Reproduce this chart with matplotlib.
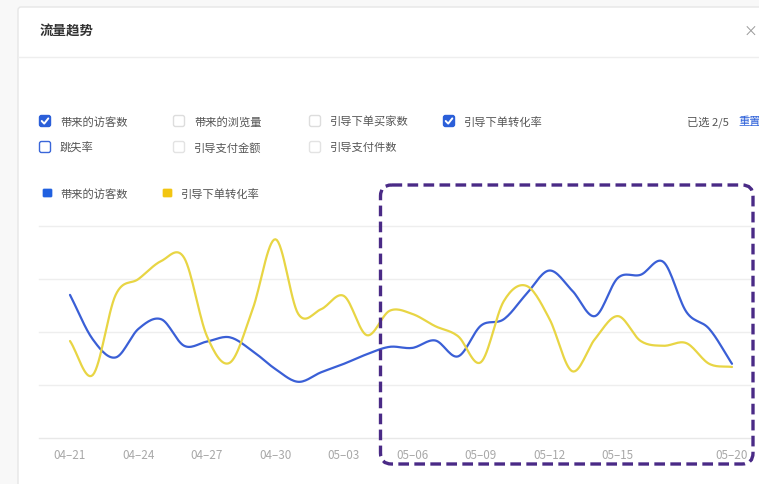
import numpy as np
import pandas as pd
import matplotlib
matplotlib.use('Agg')
import matplotlib.pyplot as plt
from matplotlib.patches import FancyBboxPatch

plt.rcParams['font.family'] = ['Noto Sans CJK SC', 'DejaVu Sans']

# data
dates = pd.date_range('2024-04-21', '2024-05-20').strftime('%m–%d').tolist()
visitors = [135, 93, 76, 103, 112, 87, 91, 95, 82, 65,
            53, 62, 70, 79, 86, 85, 92, 77, 106, 112,
            136, 158, 139, 115, 151, 154, 166, 119, 103, 70]
conv_rate = [1.83, 1.19, 2.70, 3.00, 3.34, 3.40, 1.92, 1.42, 2.43, 3.75,
             2.34, 2.43, 2.68, 1.94, 2.40, 2.34, 2.11, 1.92, 1.43, 2.58,
             2.87, 2.25, 1.26, 1.87, 2.30, 1.83, 1.74, 1.79, 1.40, 1.34]
tick_idx = [0, 3, 6, 9, 12, 15, 18, 21, 24, 29]

row1 = ['带来的访客数', '带来的浏览量', '引导下单买家数', '引导下单转化率']
row2 = ['跳失率', '引导支付金额', '引导支付件数']
checked = ['带来的访客数', '引导下单转化率']
legend_names = ['带来的访客数', '引导下单转化率']

BLUE = '#3a5fd6'
YELLOW = '#e8d544'
W, H = 759, 485


def smooth(y, k=16):
    # cubic hermite curve through the points (like the smooth line of the web chart)
    y = np.asarray(y, float)
    m = np.gradient(y)
    t = np.linspace(0, 1, k, endpoint=False)
    h00 = 2*t**3 - 3*t**2 + 1
    h10 = t**3 - 2*t**2 + t
    h01 = -2*t**3 + 3*t**2
    h11 = t**3 - t**2
    xs, ys = [], []
    for i in range(len(y) - 1):
        xs.append(i + t)
        ys.append(h00*y[i] + h10*m[i] + h01*y[i+1] + h11*m[i+1])
    xs.append([len(y) - 1])
    ys.append([y[-1]])
    return np.concatenate(xs), np.concatenate(ys)


fig = plt.figure(figsize=(W/100, H/100), dpi=100, facecolor='#f8f8f8')

# background ui layer (pixel coords)
bg = fig.add_axes([0, 0, 1, 1], zorder=0)
bg.set_xlim(0, W)
bg.set_ylim(H, 0)
bg.axis('off')
bg.add_patch(FancyBboxPatch((18, 8), 760, 500, boxstyle='round,pad=0,rounding_size=3',
                            facecolor='white', edgecolor='#e6e6e6', lw=1))
bg.plot([18, W], [58, 58], color='#eeeeee', lw=1)
bg.text(40, 32, '流量趋势', fontsize=9.7, color='#333333', va='center', fontweight='bold')
bg.text(744, 32, '×', fontsize=10, color='#999999', va='center')


def checkbox(x, y, label, on, edge='#dddddd'):
    if on:
        bg.add_patch(FancyBboxPatch((x - 5.5, y - 5.5), 11, 11, boxstyle='round,pad=0,rounding_size=2',
                                    facecolor='#2b5fd9', edgecolor='#2b5fd9', lw=1))
        bg.plot([x - 3.3, x - 0.8, x + 3.3], [y, y + 2.6, y - 2.6], color='white', lw=1.4,
                solid_capstyle='round')
    else:
        bg.add_patch(FancyBboxPatch((x - 5.5, y - 5.5), 11, 11, boxstyle='round,pad=0,rounding_size=2',
                                    facecolor='white', edgecolor=edge, lw=1))
    bg.text(x + 15, y, label, fontsize=8.1, color='#555555', va='center')


col_x = [45, 179, 315, 449]
for cx, name in zip(col_x, row1):
    checkbox(cx, 122, name, name in checked)
for cx, name in zip(col_x, row2):
    checkbox(cx, 148, name, name in checked, edge='#3a66d9' if name == '跳失率' else '#e3e3e3')
bg.text(687, 122, '已选 2/5', fontsize=8.1, color='#555555', va='center')
bg.text(738, 122, '重置', fontsize=8.1, color='#2b5fd9', va='center')

# legend
for lx, name, c in zip([47.5, 167.5], legend_names, ['#2060e0', '#f2c511']):
    bg.add_patch(FancyBboxPatch((lx - 4.5, 190), 9, 8, boxstyle='round,pad=0,rounding_size=1',
                                facecolor=c, edgecolor=c, lw=0.5))
    bg.text(lx + 13, 194, name, fontsize=8.1, color='#555555', va='center')

# chart
left, right, top, bottom = 39, 750, 227, 439
ax = fig.add_axes([left/W, 1 - bottom/H, (right - left)/W, (bottom - top)/H], zorder=5)
ax.patch.set_visible(False)
ax2 = ax.twinx()
ax2.patch.set_visible(False)
x0 = (left - 70) / 22.83
x1 = 29 + (right - 732) / 22.83
for a in (ax, ax2):
    a.set_xlim(x0, x1)
    for s in a.spines.values():
        s.set_visible(False)
    a.set_yticks([])
ax.set_ylim(0, 200)
ax2.set_ylim(0, 4)
for g in [0, 50, 100, 150, 200]:
    ax.axhline(g, color='#eeeeee' if g else '#e8e8e8', lw=1, zorder=0, clip_on=False)

xs, ys = smooth(visitors)
ax.plot(xs, ys, color=BLUE, lw=1.6, solid_capstyle='round', zorder=3)
xs, ys = smooth(conv_rate)
ax2.plot(xs, ys, color=YELLOW, lw=1.6, solid_capstyle='round', zorder=3)

ax.set_xticks(tick_idx)
ax.set_xticklabels([dates[i] for i in tick_idx], fontsize=8.4, color='#a8a8a8')
ax.tick_params(axis='x', length=0, pad=7)
ax2.tick_params(axis='x', length=0)

# dashed highlight box on top
fg = fig.add_axes([0, 0, 1, 1], zorder=10)
fg.set_xlim(0, W)
fg.set_ylim(H, 0)
fg.axis('off')
fg.add_patch(FancyBboxPatch((380.5, 186), 372.5, 279, boxstyle='round,pad=0,rounding_size=11',
                            facecolor='none', edgecolor='#4a2a86', lw=2.4,
                            linestyle=(0, (3.2, 1.6))))

fig.savefig('out.png', dpi=100, facecolor=fig.get_facecolor())
